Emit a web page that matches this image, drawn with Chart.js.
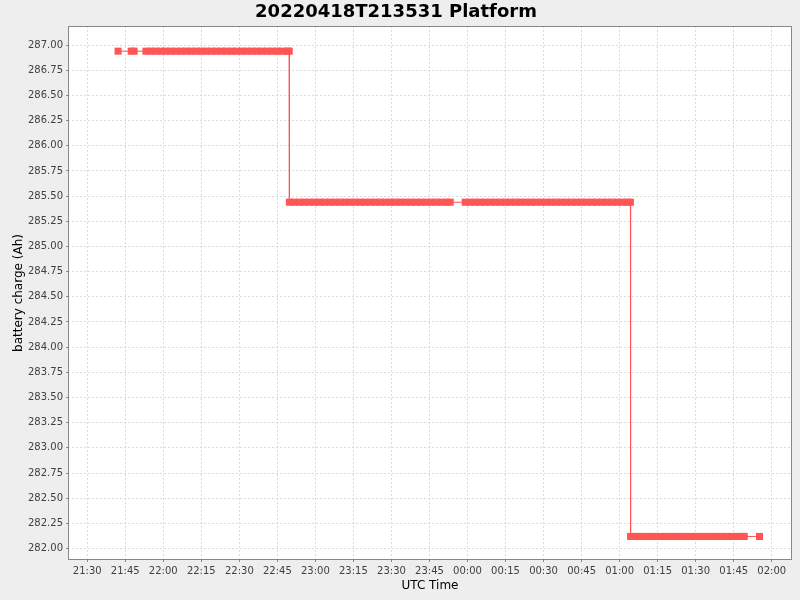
<!DOCTYPE html>
<html>
<head>
<meta charset="utf-8">
<script src="https://cdn.jsdelivr.net/npm/chart.js@4.4.1/dist/chart.umd.min.js"></script>
<style>
  html, body { margin: 0; padding: 0; background: #eeeeee; }
  #wrap { width: 800px; height: 600px; }
</style>
</head>
<body>
<div id="wrap"><canvas id="c" width="800" height="600"></canvas></div>
<script>
// ---- data (UTC sample times and battery charge) ----
const chartTitle = "20220418T213531 Platform";
const xAxisTitle = "UTC Time";
const yAxisTitle = "battery charge (Ah)";

const sampleTimes = [
  "21:42:10",
  "21:47:20", "21:48:30",
  "21:53:10", "21:55:05", "21:57:00", "21:59:00", "22:01:00", "22:03:00", "22:05:00", "22:07:00",
  "22:09:00", "22:11:00", "22:13:00", "22:15:00", "22:17:00", "22:19:00", "22:21:00", "22:23:00",
  "22:25:00", "22:27:00", "22:29:00", "22:31:00", "22:33:00", "22:35:00", "22:37:00", "22:39:00",
  "22:41:00", "22:43:00", "22:45:00", "22:47:00", "22:49:00", "22:49:40",
  "22:49:45", "22:51:40", "22:53:40", "22:55:40", "22:57:40", "22:59:40", "23:01:40", "23:03:40",
  "23:05:40", "23:07:40", "23:09:40", "23:11:40", "23:13:40", "23:15:40", "23:17:40", "23:19:40",
  "23:21:40", "23:23:40", "23:25:40", "23:27:40", "23:29:40", "23:31:40", "23:33:40", "23:35:40",
  "23:37:40", "23:39:40", "23:41:40", "23:43:40", "23:45:40", "23:47:40", "23:49:40", "23:51:40",
  "23:53:10",
  "23:59:05", "00:01:00", "00:03:00", "00:05:00", "00:07:00", "00:09:00", "00:11:00", "00:13:00",
  "00:15:00", "00:17:00", "00:19:00", "00:21:00", "00:23:00", "00:25:00", "00:27:00", "00:29:00",
  "00:31:00", "00:33:00", "00:35:00", "00:37:00", "00:39:00", "00:41:00", "00:43:00", "00:45:00",
  "00:47:00", "00:49:00", "00:51:00", "00:53:00", "00:55:00", "00:57:00", "00:59:00", "01:01:00",
  "01:03:00", "01:04:15",
  "01:04:20", "01:06:20", "01:08:20", "01:10:20", "01:12:20", "01:14:20", "01:16:20", "01:18:20",
  "01:20:20", "01:22:20", "01:24:20", "01:26:20", "01:28:20", "01:30:20", "01:32:20", "01:34:20",
  "01:36:20", "01:38:20", "01:40:20", "01:42:20", "01:44:20", "01:46:20", "01:48:20", "01:49:10",
  "01:55:10"
];

const chargeAh = [
  286.94,
  286.94, 286.94,
  286.94, 286.94, 286.94, 286.94, 286.94, 286.94, 286.94, 286.94,
  286.94, 286.94, 286.94, 286.94, 286.94, 286.94, 286.94, 286.94,
  286.94, 286.94, 286.94, 286.94, 286.94, 286.94, 286.94, 286.94,
  286.94, 286.94, 286.94, 286.94, 286.94, 286.94,
  285.44, 285.44, 285.44, 285.44, 285.44, 285.44, 285.44, 285.44,
  285.44, 285.44, 285.44, 285.44, 285.44, 285.44, 285.44, 285.44,
  285.44, 285.44, 285.44, 285.44, 285.44, 285.44, 285.44, 285.44,
  285.44, 285.44, 285.44, 285.44, 285.44, 285.44, 285.44, 285.44,
  285.44,
  285.44, 285.44, 285.44, 285.44, 285.44, 285.44, 285.44, 285.44,
  285.44, 285.44, 285.44, 285.44, 285.44, 285.44, 285.44, 285.44,
  285.44, 285.44, 285.44, 285.44, 285.44, 285.44, 285.44, 285.44,
  285.44, 285.44, 285.44, 285.44, 285.44, 285.44, 285.44, 285.44,
  285.44, 285.44,
  282.12, 282.12, 282.12, 282.12, 282.12, 282.12, 282.12, 282.12,
  282.12, 282.12, 282.12, 282.12, 282.12, 282.12, 282.12, 282.12,
  282.12, 282.12, 282.12, 282.12, 282.12, 282.12, 282.12, 282.12,
  282.12
];

const xTickLabels = ["21:30","21:45","22:00","22:15","22:30","22:45","23:00","23:15","23:30","23:45",
                     "00:00","00:15","00:30","00:45","01:00","01:15","01:30","01:45","02:00"];
const yTickValues = [282.00,282.25,282.50,282.75,283.00,283.25,283.50,283.75,284.00,284.25,
                     284.50,284.75,285.00,285.25,285.50,285.75,286.00,286.25,286.50,286.75,287.00];
const xRange = ["21:22:25", "02:08:00"];
const yRange = [281.886, 287.19];

// ---- helpers: time string -> minutes after 21:30 (crossing midnight) ----
function toMin(s) {
  const p = s.split(":").map(Number);
  let m = p[0] * 60 + p[1] + (p[2] || 0) / 60 - (21 * 60 + 30);
  if (m < -60) m += 1440;
  return m;
}
const points = sampleTimes.map((t, i) => ({ x: toMin(t), y: chargeAh[i] }));
const xTickValues = xTickLabels.map(toMin);

const bgPlugin = {
  id: 'bg',
  beforeDraw(chart) {
    const ctx = chart.ctx, a = chart.chartArea;
    ctx.save();
    ctx.fillStyle = '#eeeeee';
    ctx.fillRect(0, 0, chart.width, chart.height);
    ctx.fillStyle = '#ffffff';
    ctx.fillRect(a.left, a.top, a.right - a.left, a.bottom - a.top);
    ctx.restore();
  },
  afterDraw(chart) {
    const ctx = chart.ctx, a = chart.chartArea;
    ctx.save();
    ctx.strokeStyle = '#888888';
    ctx.lineWidth = 1;
    ctx.strokeRect(Math.round(a.left) + 0.5, Math.round(a.top) + 0.5,
                   Math.round(a.right - a.left) - 1, Math.round(a.bottom - a.top) - 1);
    ctx.restore();
  }
};

const FONT = "'DejaVu Sans', sans-serif";

new Chart(document.getElementById('c'), {
  type: 'line',
  data: {
    datasets: [{
      data: points,
      borderColor: '#ff5555',
      backgroundColor: '#ff5555',
      borderWidth: 1,
      pointStyle: 'rect',
      pointRadius: 5,
      pointBorderWidth: 0,
      pointBackgroundColor: '#ff5555',
      tension: 0,
      fill: false
    }]
  },
  options: {
    responsive: false,
    animation: false,
    devicePixelRatio: 1,
    layout: { padding: { left: 0, right: 8, top: 0, bottom: 0 } },
    plugins: {
      legend: { display: false },
      tooltip: { enabled: false },
      title: {
        display: true,
        text: chartTitle,
        color: '#000000',
        font: { family: FONT, size: 18, weight: 'bold' },
        padding: { top: 2, bottom: 2.4 }
      }
    },
    scales: {
      x: {
        type: 'linear',
        min: toMin(xRange[0]),
        max: toMin(xRange[1]),
        afterBuildTicks(scale) { scale.ticks = xTickValues.map(v => ({ value: v })); },
        afterFit(scale) { scale.height = 40; },
        ticks: {
          autoSkip: false,
          maxRotation: 0,
          padding: 3,
          color: '#404040',
          font: { family: FONT, size: 10 },
          callback: (v, i) => xTickLabels[i]
        },
        grid: {
          color: '#dadada',
          tickColor: '#888888',
          tickLength: 2,
          lineWidth: 1
        },
        border: { display: false, dash: [2, 2] },
        title: {
          display: true,
          text: xAxisTitle,
          color: '#000000',
          font: { family: FONT, size: 12 },
          padding: { top: 0, bottom: 7 }
        }
      },
      y: {
        type: 'linear',
        min: yRange[0],
        max: yRange[1],
        afterBuildTicks(scale) { scale.ticks = yTickValues.map(v => ({ value: v })); },
        afterFit(scale) { scale.width = 68; },
        ticks: {
          autoSkip: false,
          padding: 3,
          color: '#404040',
          font: { family: FONT, size: 10 },
          callback: (v) => Number(v).toFixed(2)
        },
        grid: {
          color: '#dadada',
          tickColor: '#888888',
          tickLength: 2,
          lineWidth: 1
        },
        border: { display: false, dash: [2, 2] },
        title: {
          display: true,
          text: yAxisTitle,
          color: '#000000',
          font: { family: FONT, size: 12 },
          padding: { top: 12, bottom: 0 }
        }
      }
    }
  },
  plugins: [bgPlugin]
});
</script>
</body>
</html>
